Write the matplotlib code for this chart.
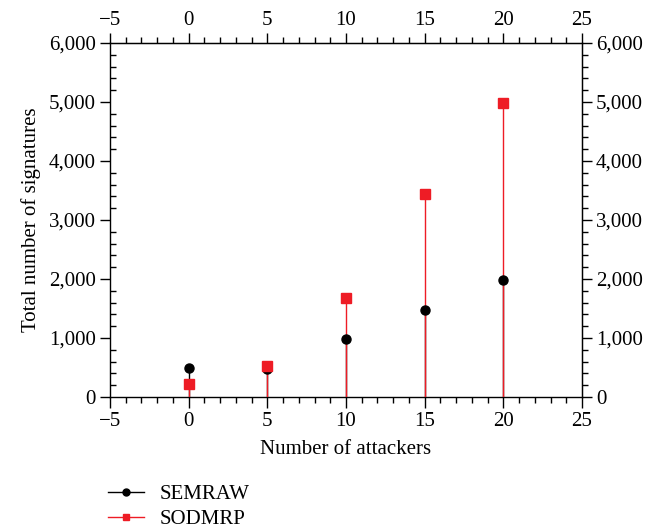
import matplotlib
matplotlib.use("Agg")
import matplotlib.pyplot as plt
from matplotlib.lines import Line2D
from matplotlib.ticker import FixedLocator, FuncFormatter

plt.rcParams['font.family'] = ['Liberation Serif', 'DejaVu Serif']
plt.rcParams['font.size'] = 15

# data
attackers = [0, 5, 10, 15, 20]
semraw = [490, 480, 990, 1470, 1980]
sodmrp = [220, 525, 1680, 3440, 4980]

x_major = list(range(-5, 26, 5))
x_minor = list(range(-5, 26, 1))
y_major = list(range(0, 6001, 1000))
y_minor = list(range(0, 6001, 200))

black = '#000000'
red = '#ee1c25'

fig = plt.figure(figsize=(6.65, 5.28), dpi=100)
ax = fig.add_axes([0.1654, 0.2481, 0.7098, 0.6705])

# stems and markers
ax.vlines(attackers, 0, semraw, color=black, lw=1.0, zorder=2)
ax.vlines(attackers, 0, sodmrp, color=red, lw=1.0, zorder=3)
ax.plot(attackers, semraw, 'o', color=black, ms=6.5, zorder=4, clip_on=False)
ax.plot(attackers, sodmrp, 's', color=red, ms=6.5, zorder=5, clip_on=False)

ax.set_xlim(-5, 25)
ax.set_ylim(0, 6000)
fmt = FuncFormatter(lambda v, p: f'{int(v):,}')


def set_ticks(axis, major, minor):
    axis.set_major_locator(FixedLocator(major))
    axis.set_minor_locator(FixedLocator(minor))


set_ticks(ax.xaxis, x_major, x_minor)
set_ticks(ax.yaxis, y_major, y_minor)
ax.yaxis.set_major_formatter(fmt)

for s in ax.spines.values():
    s.set_linewidth(1.0)

ax.tick_params(axis='x', which='major', direction='out', length=8, width=1.0, pad=3)
ax.tick_params(axis='x', which='minor', direction='out', length=4, width=1.0)
ax.tick_params(axis='y', which='major', direction='out', length=7, width=1.0, pad=3)
ax.tick_params(axis='y', which='minor', direction='in', length=4, width=1.0)

top = ax.secondary_xaxis('top')
set_ticks(top.xaxis, x_major, x_minor)
top.tick_params(which='major', direction='out', length=7, width=1.0, pad=2)
top.tick_params(which='minor', direction='out', length=4, width=1.0)

right = ax.secondary_yaxis('right')
set_ticks(right.yaxis, y_major, y_minor)
right.yaxis.set_major_formatter(fmt)
right.tick_params(which='major', direction='out', length=7, width=1.0, pad=3)
right.tick_params(which='minor', direction='out', length=4, width=1.0)

ax.set_xlabel('Number of attackers', labelpad=6)
ax.set_ylabel('Total number of signatures', labelpad=6)

handles = [
    Line2D([], [], color=black, lw=1.0, marker='o', ms=5),
    Line2D([], [], color=red, lw=1.0, marker='s', ms=5),
]
fig.legend(handles, ['SEMRAW', 'SODMRP'], loc='upper left',
           bbox_to_anchor=(0.163, 0.082), frameon=False,
           handlelength=1.7, handletextpad=0.75, labelspacing=0.25,
           borderaxespad=0, borderpad=0)

fig.savefig('out.png', dpi=100)
